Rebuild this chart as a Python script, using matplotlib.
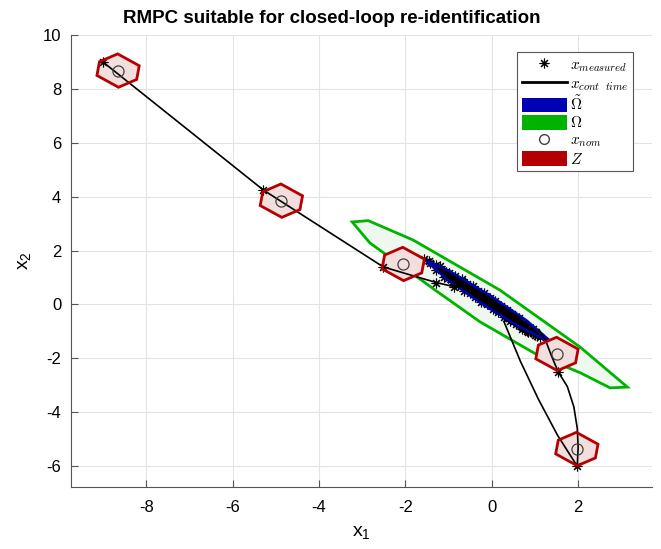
import matplotlib
matplotlib.use("Agg")
import matplotlib.pyplot as plt
from matplotlib.patches import Polygon, Patch
from matplotlib.lines import Line2D
from matplotlib.font_manager import FontProperties

plt.rcParams['font.family'] = ['Liberation Sans', 'DejaVu Sans']
plt.rcParams['axes.unicode_minus'] = False
plt.rcParams['mathtext.fontset'] = 'custom'
plt.rcParams['mathtext.rm'] = 'Liberation Sans'
plt.rcParams['mathtext.it'] = 'Liberation Sans:italic'

# set Omega (green) and Omega tilde (blue)
omega_x = [-3.23, -2.86, -1.82, 0.19, 2.05, 3.14, 2.74, 2.05, 1.05, -0.27, -1.31, -1.73, -2.82]
omega_y = [3.06, 3.11, 2.39, 0.53, -1.59, -3.07, -3.10, -2.54, -1.87, -0.65, 0.53, 1.02, 2.28]
omt_x = [-1.52, -1.00, 0.00, 0.80, 1.42, 0.60, -0.20, -1.00]
omt_y = [1.62, 1.26, 0.29, -0.59, -1.45, -0.80, 0.00, 0.88]

# tube Z (hexagon, relative to nominal state)
hex_dx = [-0.49, -0.43, -0.01, 0.49, 0.43, 0.01]
hex_dy = [-0.18, 0.33, 0.62, 0.18, -0.33, -0.62]

# nominal states
nom_x = [-8.65, -4.87, -2.05, 1.51, 1.97]
nom_y = [8.68, 3.85, 1.50, -1.84, -5.37]

# measured states outside the cluster
meas_x = [-9.0, -5.29, -2.51, -1.28, -0.88, 1.98, 1.54]
meas_y = [9.0, 4.25, 1.39, 0.81, 0.66, -6.01, -2.51]

# continuous time trajectory, approach phase
cont1_x = [-9.0, -5.29, -2.51, -1.9, -1.28, -0.88, -0.62]
cont1_y = [9.0, 4.25, 1.39, 1.10, 0.81, 0.66, 0.72]

# measured states around the origin
clus_x = [-1.56, -1.42, -1.30, -1.18, -1.05, -0.95, -1.02, -0.85, -0.75, -0.70,
          -0.62, -0.55, -0.48, -0.60, -0.45, -0.35, -0.28, -0.40, -0.22, -0.15,
          -0.08, -0.20, 0.02, 0.08, 0.12, 0.00, 0.22, 0.30, 0.25, 0.38,
          0.45, 0.52, 0.40, 0.60, 0.68, 0.75, 0.62, 0.82, 0.90, 1.00,
          0.85, 0.70, 0.55, 0.35, 0.15, -0.05, -0.25, -0.45, -0.65, -0.85,
          -1.10, -0.90, -0.70, -0.50, -0.30, -0.10, 0.10, 0.30, 0.50, 0.70,
          0.45, 0.20, -0.05, -0.30, -0.55, -0.35, -0.12, 0.08, 0.28, 0.48,
          0.72, 0.95, 1.12,
          1.05, 0.95, 0.85, 0.78, 0.70, 0.62, 0.55, 0.48, 0.42, 0.35,
          0.28, 0.22, 0.15, 0.08, 0.02, -0.05, -0.12, -0.18, -0.25, -0.32,
          -0.38, -0.44, -0.50, -0.58, -0.64, -0.70, -0.78, -0.85, -0.92, -1.00,
          -1.10, -1.20, -1.30, -1.45]
clus_y = [1.70, 1.52, 1.45, 1.28, 1.20, 1.05, 0.98, 0.95, 0.82, 0.88,
          0.72, 0.68, 0.52, 0.62, 0.48, 0.42, 0.30, 0.38, 0.20, 0.18,
          0.05, 0.12, -0.05, -0.10, -0.18, -0.02, -0.25, -0.38, -0.30, -0.45,
          -0.52, -0.62, -0.50, -0.70, -0.82, -0.88, -0.78, -1.00, -1.02, -1.12,
          -0.92, -0.80, -0.62, -0.40, -0.20, 0.02, 0.25, 0.45, 0.68, 0.90,
          1.18, 0.98, 0.75, 0.55, 0.32, 0.08, -0.12, -0.32, -0.58, -0.75,
          -0.48, -0.22, 0.04, 0.30, 0.55, 0.35, 0.12, -0.08, -0.30, -0.50,
          -0.85, -1.05, -1.20,
          -1.17, -0.93, -1.02, -0.72, -0.91, -0.52, -0.73, -0.36, -0.62, -0.20,
          -0.45, -0.05, -0.30, 0.12, -0.18, 0.24, 0.00, 0.41, 0.10, 0.51,
          0.26, 0.70, 0.41, 0.76, 0.51, 0.95, 0.73, 1.07, 0.82, 1.18,
          1.03, 1.41, 1.29, 1.60]

# disturbance kick and recovery
dist_x = [0.28, 0.66, 1.08, 1.52, 1.98, 2.00, 1.98, 1.90, 1.75, 1.54, 1.38, 1.25, 1.09]
dist_y = [-0.63, -2.10, -3.52, -4.85, -6.01, -5.30, -4.60, -3.80, -3.05, -2.51, -1.90, -1.35, -0.93]

green = '#00b300'
blue = '#0000b4'
red = '#b40000'

fig = plt.figure(figsize=(6.61, 5.49), dpi=100)
ax = fig.add_axes([0.1074, 0.1129, 0.879, 0.8233])

ax.add_patch(Polygon(list(zip(omega_x, omega_y)), closed=True, facecolor='#eef8ee',
                     edgecolor=green, lw=2, zorder=1))
ax.add_patch(Polygon(list(zip(omt_x, omt_y)), closed=True, facecolor='#1a1a60',
                     edgecolor='none', zorder=2))
ax.plot(clus_x, clus_y, '-', color='k', lw=1.2, zorder=2)
ax.plot(clus_x, clus_y, ls='none', marker=(8, 2, 0), ms=7, mew=0.8, color='k', zorder=2)
ax.add_patch(Polygon(list(zip(omt_x, omt_y)), closed=True, facecolor='none',
                     edgecolor=blue, lw=1.8, zorder=3))
for cx, cy in zip(nom_x, nom_y):
    pts = [(cx + dx, cy + dy) for dx, dy in zip(hex_dx, hex_dy)]
    ax.add_patch(Polygon(pts, closed=True, facecolor='#f3dede', edgecolor='none', zorder=4))
    ax.add_patch(Polygon(pts, closed=True, facecolor='none', edgecolor=red, lw=2, zorder=6))
ax.plot(cont1_x, cont1_y, '-', color='k', lw=1.2, zorder=5)
ax.plot(dist_x, dist_y, '-', color='k', lw=1.2, zorder=5)
ax.plot(meas_x, meas_y, ls='none', marker=(8, 2, 0), ms=7, mew=0.8, color='k', zorder=5)
ax.plot(nom_x, nom_y, ls='none', marker='o', ms=8, mfc='none', mec='#404040', mew=0.9, zorder=7)

ax.set_xlim(-9.74, 3.71)
ax.set_ylim(-6.78, 10)
ax.set_xticks([-8, -6, -4, -2, 0, 2])
ax.set_yticks([-6, -4, -2, 0, 2, 4, 6, 8, 10])
ax.grid(True, color='#e3e3e3', lw=0.8)
ax.set_axisbelow(True)
for s in ['top', 'right']:
    ax.spines[s].set_visible(False)
for s in ['left', 'bottom']:
    ax.spines[s].set_color('#555555')
ax.tick_params(direction='in', length=5, labelsize=12, color='#555555')
ax.tick_params(axis='x', pad=9)
ax.tick_params(axis='y', pad=7)

ax.set_title('RMPC suitable for closed-loop re-identification', fontsize=13.5,
             fontweight='bold', x=0.449, pad=9)
ax.set_xlabel('x$_1$', fontsize=14, math_fontfamily='custom', labelpad=7)
ax.set_ylabel('x$_2$', fontsize=14, math_fontfamily='custom', labelpad=7)

handles = [
    Line2D([], [], ls='none', marker=(8, 2, 0), ms=7, mew=0.8, color='k'),
    Line2D([], [], color='k', lw=2),
    Patch(facecolor=blue, edgecolor='none'),
    Patch(facecolor=green, edgecolor='none'),
    Line2D([], [], ls='none', marker='o', ms=7, mfc='none', mec='#404040'),
    Patch(facecolor=red, edgecolor='none'),
]
labels = [r'$x_{measured}$', r'$x_{cont\ \ time}$', r'$\tilde{\Omega}$', r'$\Omega$',
          r'$x_{nom}$', r'$Z$']
leg = ax.legend(handles, labels, loc='upper right', bbox_to_anchor=(0.967, 0.9626),
                prop=FontProperties(size=11, math_fontfamily='cm'),
                handlelength=3.0, handleheight=1.1, handletextpad=0.15,
                labelspacing=0.12, borderpad=0.3, borderaxespad=0,
                fancybox=False, framealpha=1, edgecolor='#555555')
leg.get_frame().set_linewidth(0.8)

fig.savefig('out.png', dpi=100)
